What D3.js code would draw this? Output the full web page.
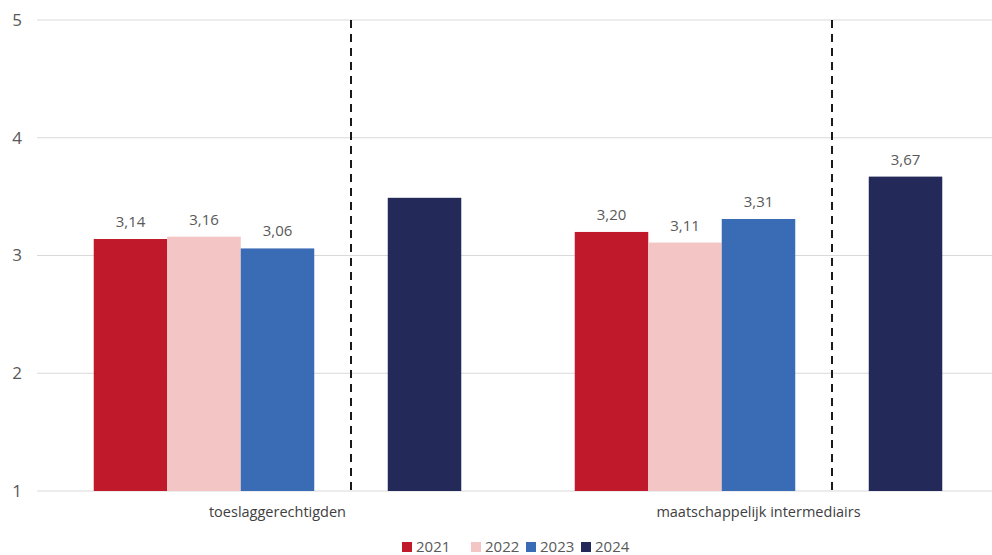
<!DOCTYPE html>
<html>
<head>
<meta charset="utf-8">
<script src="https://cdn.jsdelivr.net/npm/d3@7"></script>
<style>
  html, body { margin: 0; padding: 0; background: #ffffff; }
  svg { display: block; font-family: "Open Sans", "Noto Sans", sans-serif; }
</style>
</head>
<body>
<svg id="chart" width="992" height="555"></svg>
<script>
// Chart data
const categories = ["toeslaggerechtigden", "maatschappelijk intermediairs"];
const years = ["2021", "2022", "2023", "2024"];
const values2021 = [3.14, 3.20];
const values2022 = [3.16, 3.11];
const values2023 = [3.06, 3.31];
const values2024 = [3.49, 3.67];
const showLabel2024 = [false, true];
const yTicks = [1, 2, 3, 4, 5];

const colors = { "2021": "#c0192b", "2022": "#f4c5c5", "2023": "#3a6bb5", "2024": "#232a5a" };
const seriesValues = { "2021": values2021, "2022": values2022, "2023": values2023, "2024": values2024 };

const svg = d3.select("#chart");
const W = 992, H = 555;
const plot = { left: 37, right: 999, top: 20, bottom: 491 };

const nl = d3.formatLocale({ decimal: ",", thousands: ".", grouping: [3], currency: ["€", ""] });
const fmt = nl.format(".2f");

const y = d3.scaleLinear().domain([1, 5]).range([plot.bottom, plot.top]);
const x0 = d3.scaleBand().domain(categories).range([plot.left, plot.right]).padding(0);
// Five slots per group: three years, a separator slot, then 2024
const slots = ["2021", "2022", "2023", "sep", "2024"];
const x1 = d3.scaleBand().domain(slots).range([0, x0.bandwidth()]).paddingInner(0).paddingOuter(0.772);

// Gridlines and y tick labels
const grid = svg.append("g");
grid.selectAll("line").data(yTicks).join("line")
  .attr("x1", plot.left).attr("x2", W)
  .attr("y1", d => y(d)).attr("y2", d => y(d))
  .attr("stroke", "#d9d9d9").attr("stroke-width", 1.2);
grid.selectAll("text").data(yTicks).join("text")
  .attr("x", 17).attr("y", d => y(d)).attr("dy", "0.35em")
  .attr("text-anchor", "middle")
  .attr("font-size", 17).attr("fill", "#595959")
  .text(d => d);

// Bars
const rows = [];
categories.forEach((c, i) => {
  years.forEach(yr => {
    rows.push({ cat: c, year: yr, value: seriesValues[yr][i], label: yr !== "2024" || showLabel2024[i] });
  });
});

const groups = svg.append("g").selectAll("g").data(categories).join("g")
  .attr("transform", d => `translate(${x0(d)},0)`);

groups.selectAll("rect").data(c => rows.filter(r => r.cat === c)).join("rect")
  .attr("x", d => x1(d.year))
  .attr("width", x1.bandwidth())
  .attr("y", d => y(d.value))
  .attr("height", d => y(1) - y(d.value))
  .attr("fill", d => colors[d.year]);

groups.selectAll("text.val").data(c => rows.filter(r => r.cat === c && r.label)).join("text")
  .attr("class", "val")
  .attr("x", d => x1(d.year) + x1.bandwidth() / 2)
  .attr("y", d => y(d.value) - 12)
  .attr("text-anchor", "middle")
  .attr("font-size", 15).attr("fill", "#595959")
  .text(d => fmt(d.value));

// Dashed separator before 2024
groups.append("line")
  .attr("x1", x1("sep") + x1.bandwidth() / 2).attr("x2", x1("sep") + x1.bandwidth() / 2)
  .attr("y1", plot.top).attr("y2", plot.bottom)
  .attr("stroke", "#1a1a1a").attr("stroke-width", 2)
  .attr("stroke-dasharray", "8,6");

// Category labels
svg.append("g").selectAll("text").data(categories).join("text")
  .attr("x", d => x0(d) + x0.bandwidth() / 2)
  .attr("y", 517)
  .attr("text-anchor", "middle")
  .attr("font-size", 14.5).attr("fill", "#404040")
  .text(d => d);

// Legend
const legendX = [402, 471, 526, 581];
const legend = svg.append("g").selectAll("g").data(years).join("g")
  .attr("transform", (d, i) => `translate(${legendX[i]},547)`);
legend.append("rect")
  .attr("x", 0).attr("y", -5).attr("width", 10).attr("height", 10)
  .attr("fill", d => colors[d]);
legend.append("text")
  .attr("x", 14).attr("y", 0).attr("dy", "0.35em")
  .attr("font-size", 15).attr("fill", "#595959")
  .text(d => d);
</script>
</body>
</html>
